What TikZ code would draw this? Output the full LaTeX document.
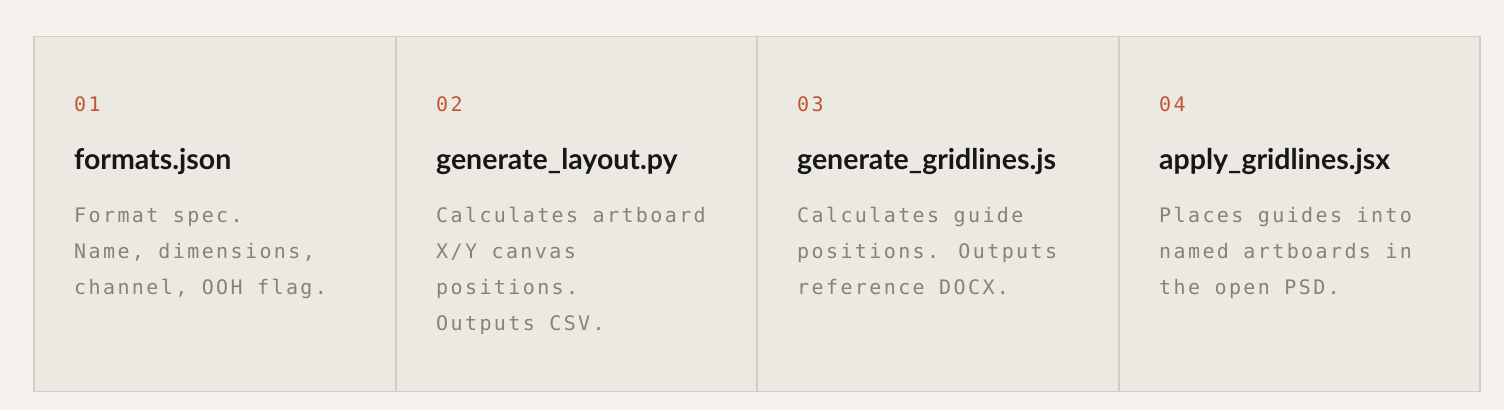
\documentclass[tikz,border=0pt]{standalone}
\usepackage{fontspec}
\newfontfamily\monof[LetterSpace=12]{DejaVu Sans Mono}
\newfontfamily\titlef{Lato}
\definecolor{bgc}{HTML}{F5F2EE}
\definecolor{panelc}{HTML}{ECE9E3}
\definecolor{borderc}{HTML}{D2CEC7}
\definecolor{numc}{HTML}{C2552F}
\definecolor{titlec}{HTML}{161616}
\definecolor{bodyc}{HTML}{86817A}
\tikzset{
  x=1pt, y=-1pt,
  panel/.style={draw=borderc, line width=1.5pt, fill=panelc},
  numtext/.style={anchor=base west, inner sep=0pt, text=numc, font=\monof\fontsize{20}{20}\selectfont},
  titletext/.style={anchor=base west, inner sep=0pt, text=titlec, font=\titlef\bfseries\fontsize{28.5}{28.5}\selectfont},
  bodytext/.style={anchor=base west, inner sep=0pt, text=bodyc, align=left, font=\monof\fontsize{20}{36}\selectfont},
}
\begin{document}
\begin{tikzpicture}
\fill[bgc] (0,0) rectangle (1504,410);
\useasboundingbox (0,0) rectangle (1504,410);
\node[panel, minimum width=362pt, minimum height=355pt, anchor=north west, inner sep=0pt] (p1) at (33,35.5) {};
\node[panel, minimum width=361pt, minimum height=355pt, anchor=north west, inner sep=0pt] (p2) at (395,35.5) {};
\node[panel, minimum width=362pt, minimum height=355pt, anchor=north west, inner sep=0pt] (p3) at (756,35.5) {};
\node[panel, minimum width=361pt, minimum height=355pt, anchor=north west, inner sep=0pt] (p4) at (1118,35.5) {};

\node[numtext] (n1) at (74,111) {01};
\node[numtext] (n2) at (436,111) {02};
\node[numtext] (n3) at (797,111) {03};
\node[numtext] (n4) at (1159,111) {04};

\node[titletext] (t1) at (74,169) {formats.json};
\node[titletext] (t2) at (436,169) {generate\_layout.py};
\node[titletext] (t3) at (797,169) {generate\_gridlines.js};
\node[titletext] (t4) at (1159,169) {apply\_gridlines.jsx};

% base anchor of a multi-line node is the baseline of its last line
\node[bodytext] (b1) at (74,294) {Format spec.\\Name, dimensions,\\channel, OOH flag.};
\node[bodytext] (b2) at (436,330) {Calculates artboard\\X/Y canvas\\positions.\\Outputs CSV.};
\node[bodytext] (b3) at (797,294) {Calculates guide\\positions. Outputs\\reference DOCX.};
\node[bodytext] (b4) at (1159,294) {Places guides into\\named artboards in\\the open PSD.};
\end{tikzpicture}
\end{document}
